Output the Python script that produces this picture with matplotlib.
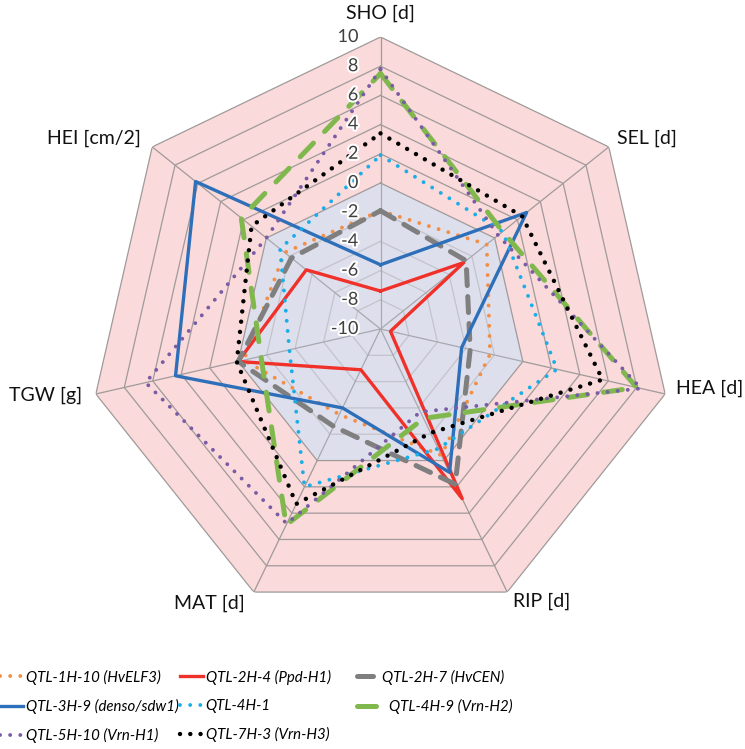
#! /usr/bin/env python3

import numpy as np
import matplotlib
matplotlib.use('Agg')
import matplotlib.pyplot as plt
import matplotlib.patheffects as pe
from matplotlib.lines import Line2D

plt.rcParams['font.family'] = ['Lato', 'DejaVu Sans']

#   traits, clockwise from the top
traits = ['SHO [d]', 'SEL [d]', 'HEA [d]', 'RIP [d]', 'MAT [d]', 'TGW [g]', 'HEI [cm/2]']
ticks = [-10, -8, -6, -4, -2, 0, 2, 4, 6, 8, 10]

#   effect of each QTL per trait (SHO, SEL, HEA, RIP, MAT, TGW, HEI)
qtl_1h_10 = [-1.9, -0.7, -2.3, -0.4, -3.5, -0.4, -1.6]
qtl_2h_4 = [-7.4, -2.7, -9.3, 2.9, -6.9, 0.0, -3.5]
qtl_2h_7 = [-1.9, -2.5, -3.7, 1.8, -2.6, 0.0, -2.2]
qtl_3h_9 = [-5.6, 2.8, -4.3, 0.9, -4.0, 4.4, 6.2]
qtl_4h_1 = [1.9, 0.7, 2.4, -0.9, 2.0, -3.6, -1.2]
qtl_4h_9 = [7.5, 0.7, 8.0, -3.2, 4.9, -1.6, 2.2]
qtl_5h_10 = [7.8, 0.3, 8.3, -3.7, 4.8, 6.5, 0.0]
qtl_7h_3 = [3.4, 2.4, 5.6, -2.1, 3.3, 0.1, 1.3]

names = ['QTL-1H-10 (HvELF3)', 'QTL-2H-4 (Ppd-H1)', 'QTL-2H-7 (HvCEN)',
         'QTL-3H-9 (denso/sdw1)', 'QTL-4H-1', '  QTL-4H-9 (Vrn-H2)',
         'QTL-5H-10 (Vrn-H1)', 'QTL-7H-3 (Vrn-H3)']

dots = (0, (0.01, 2.6))
styles = [
    dict(color='#f28e45', lw=2.8, ls=dots, dash_capstyle='round'),
    dict(color='#f0312a', lw=2.4, ls='-'),
    dict(color='#7f7f7f', lw=3.6, ls=(0, (3.2, 2.2)), dash_capstyle='round'),
    dict(color='#2e6fba', lw=2.4, ls='-'),
    dict(color='#1aaee8', lw=2.8, ls=dots, dash_capstyle='round'),
    dict(color='#80b84e', lw=3.6, ls=(0, (3.8, 3.2)), dash_capstyle='round'),
    dict(color='#7a5ba6', lw=2.8, ls=dots, dash_capstyle='round'),
    dict(color='#000000', lw=3.2, ls=(0, (0.01, 2.3)), dash_capstyle='round'),
]
series = [qtl_1h_10, qtl_2h_4, qtl_2h_7, qtl_3h_9, qtl_4h_1, qtl_4h_9, qtl_5h_10, qtl_7h_3]

n = len(traits)
theta = np.arange(n) * 2 * np.pi / n
theta_closed = np.append(theta, theta[0])

fig = plt.figure(figsize=(7.45, 7.49), dpi=100)
ax = fig.add_axes([0.1188, 0.1709, 0.7839, 0.7797], projection='polar')
ax.set_theta_zero_location('N')
ax.set_theta_direction(-1)
ax.set_ylim(-10, 10)
ax.grid(False)
ax.spines['polar'].set_visible(False)
ax.set_xticks([])
ax.set_yticks([])
ax.patch.set_alpha(0)

#   shaded background: pink above zero, lavender below
ax.fill(theta_closed, [10] * (n + 1), color='#fadada', zorder=0, lw=0)
ax.fill(theta_closed, [0] * (n + 1), color='#dedfec', zorder=0.5, lw=0)

for t in ticks[1:]:
    col = '#c3c3cb' if t < 0 else '#a09a9a'
    ax.plot(theta_closed, [t] * (n + 1), color=col, lw=0.9, zorder=1)
for th in theta:
    ax.plot([th, th], [-10, 0], color='#a8a8b0', lw=0.9, zorder=1)
    ax.plot([th, th], [0, 10], color='#a09a9a', lw=0.9, zorder=1)

for vals, st in zip(series, styles):
    ax.plot(theta_closed, np.append(vals, vals[0]), zorder=3, **st)

#   radial tick labels along the SHO axis
for t in ticks:
    ax.annotate(str(t), xy=(0, t), xytext=(-16, 0), textcoords='offset points',
                ha='right', va='center', fontsize=13, color='#3f3f3f', zorder=5,
                path_effects=[pe.withStroke(linewidth=3, foreground='white')])

#   trait labels just outside the outer ring
label_pos = [((0, 17), 'center', 'center'),
             ((6, 6.5), 'left', 'center'),
             ((8, 4), 'left', 'center'),
             ((4, -7), 'left', 'center'),
             ((-6.5, -8), 'right', 'center'),
             ((-10, -0.7), 'right', 'center'),
             ((-8, 6.5), 'right', 'center')]
for th, lab, (off, ha, va) in zip(theta, traits, label_pos):
    ax.annotate(lab, xy=(th, 10), xytext=off, textcoords='offset points',
                ha=ha, va=va, fontsize=14, color='#111111', annotation_clip=False)

#   legend in three columns, filled row by row
handles = [Line2D([], [], **st) for st in styles]
columns = [[0, 3, 6], [1, 4, 7], [2, 5]]
col_x = [0.0, 180 / 745, 357 / 745]
for idx, x in zip(columns, col_x):
    fig.legend([handles[i] for i in idx], [names[i] for i in idx],
               loc='upper left', bbox_to_anchor=(x, 0.106), frameon=False,
               handlelength=1.5, handletextpad=0.2, labelspacing=0.95,
               borderpad=0, borderaxespad=0,
               prop=dict(family='Lato', style='italic', size=10.8))

plt.savefig('out.png', dpi=100)
plt.close()
